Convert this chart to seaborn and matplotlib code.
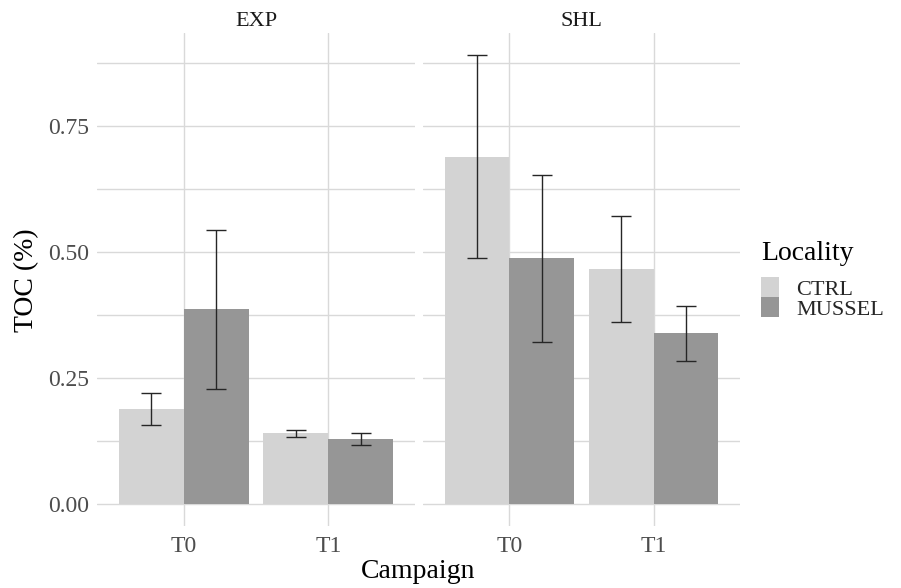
import matplotlib
matplotlib.use("Agg")
import matplotlib.pyplot as plt
import seaborn as sns
import pandas as pd
from matplotlib.patches import Patch
from matplotlib.container import BarContainer
from matplotlib.ticker import MultipleLocator, FixedLocator

# ---- data ----
facets = ["EXP", "SHL"]
campaigns = ["T0", "T1"]
localities = ["CTRL", "MUSSEL"]

exp_ctrl = [0.189, 0.140]
exp_ctrl_lo = [0.157, 0.133]
exp_ctrl_hi = [0.219, 0.147]
exp_mussel = [0.386, 0.129]
exp_mussel_lo = [0.228, 0.117]
exp_mussel_hi = [0.543, 0.140]

shl_ctrl = [0.689, 0.466]
shl_ctrl_lo = [0.488, 0.361]
shl_ctrl_hi = [0.891, 0.571]
shl_mussel = [0.488, 0.340]
shl_mussel_lo = [0.322, 0.284]
shl_mussel_hi = [0.653, 0.392]

series = {
    ("EXP", "CTRL"): (exp_ctrl, exp_ctrl_lo, exp_ctrl_hi),
    ("EXP", "MUSSEL"): (exp_mussel, exp_mussel_lo, exp_mussel_hi),
    ("SHL", "CTRL"): (shl_ctrl, shl_ctrl_lo, shl_ctrl_hi),
    ("SHL", "MUSSEL"): (shl_mussel, shl_mussel_lo, shl_mussel_hi),
}
rows = []
for (fac, loc), (vals, los, his) in series.items():
    for c, v, lo, hi in zip(campaigns, vals, los, his):
        rows.append(dict(Facet=fac, Campaign=c, Locality=loc, TOC=v, lo=lo, hi=hi))
df = pd.DataFrame(rows)

colors = {"CTRL": "#D3D3D3", "MUSSEL": "#969696"}

sns.set_theme(style="white")
plt.rcParams["font.family"] = ["Liberation Serif", "DejaVu Serif"]

W, H = 901, 588
fig = plt.figure(figsize=(W / 100, H / 100), dpi=100)

grid_col = "#D9D9D9"
tick_col = "#4D4D4D"

ymax = df["hi"].max()
pad = 0.05 * ymax
panels = [(97, 415), (423, 740)]
top_px, bot_px = 33, 526

axes = []
for i, fac in enumerate(facets):
    l, r = panels[i]
    ax = fig.add_axes([l / W, 1 - bot_px / H, (r - l) / W, (bot_px - top_px) / H])
    sub = df[df["Facet"] == fac]
    sns.barplot(data=sub, x="Campaign", y="TOC", hue="Locality", order=campaigns,
                hue_order=localities, palette=colors, width=0.9, saturation=1,
                errorbar=None, legend=False, ax=ax, zorder=2, linewidth=0)
    bar_conts = [c for c in ax.containers if isinstance(c, BarContainer)]
    for hi_idx, cont in enumerate(bar_conts):
        loc = localities[hi_idx]
        for j, bar in enumerate(cont):
            row = sub[(sub["Locality"] == loc) & (sub["Campaign"] == campaigns[j])].iloc[0]
            xc = bar.get_x() + bar.get_width() / 2
            ax.errorbar([xc], [row.TOC], yerr=[[row.TOC - row.lo], [row.hi - row.TOC]],
                        fmt="none", ecolor="#262626", elinewidth=1.0, capsize=7.4,
                        capthick=1.0, zorder=3)
    ax.set_xlim(-0.6, len(campaigns) - 0.4)
    ax.set_ylim(-pad, ymax + pad)
    ax.yaxis.set_major_locator(FixedLocator([0, 0.25, 0.5, 0.75]))
    ax.yaxis.set_minor_locator(MultipleLocator(0.125))
    ax.grid(axis="y", which="both", color=grid_col, lw=1.0, zorder=0)
    ax.grid(axis="x", which="major", color=grid_col, lw=1.0, zorder=0)
    ax.set_axisbelow(True)
    for s in ax.spines.values():
        s.set_visible(False)
    ax.set_xlabel("")
    ax.set_ylabel("")
    ax.tick_params(axis="x", which="major", length=3.5, width=0.8, color="#B0B0B0",
                   labelsize=17, labelcolor=tick_col, pad=4)
    ax.tick_params(axis="y", which="minor", length=0)
    if i == 0:
        ax.yaxis.set_major_formatter(matplotlib.ticker.FuncFormatter(lambda v, p: f"{v:.2f}"))
        ax.tick_params(axis="y", which="major", length=3.5, width=0.8, color="#B0B0B0",
                       labelsize=17, labelcolor=tick_col, pad=2)
    else:
        ax.tick_params(axis="y", which="major", length=0, labelleft=False)
    ax.set_title(fac, fontsize=16, color="#1A1A1A", pad=5)
    axes.append(ax)

fig.text((97 + 740) / 2 / W, 1 - 578 / H, "Campaign", fontsize=20, ha="center",
         va="baseline", color="black")
fig.text(27 / W, 1 - 280 / H, "TOC (%)", fontsize=20, rotation=90, ha="center",
         va="center", color="black")

# legend: title placed as text, keys below it
fig.text(761 / W, 1 - 260 / H, "Locality", fontsize=20, ha="left", va="baseline",
         color="black")
handles = [Patch(facecolor=colors[l], edgecolor="none") for l in localities]
leg = fig.legend(handles, localities, loc="upper left",
                 bbox_to_anchor=(761 / W, 1 - 277 / H), frameon=False, fontsize=16,
                 borderpad=0, borderaxespad=0, labelspacing=-0.1,
                 handlelength=0.8, handleheight=1.0, handletextpad=0.8)

fig.savefig("out.png", dpi=100)
